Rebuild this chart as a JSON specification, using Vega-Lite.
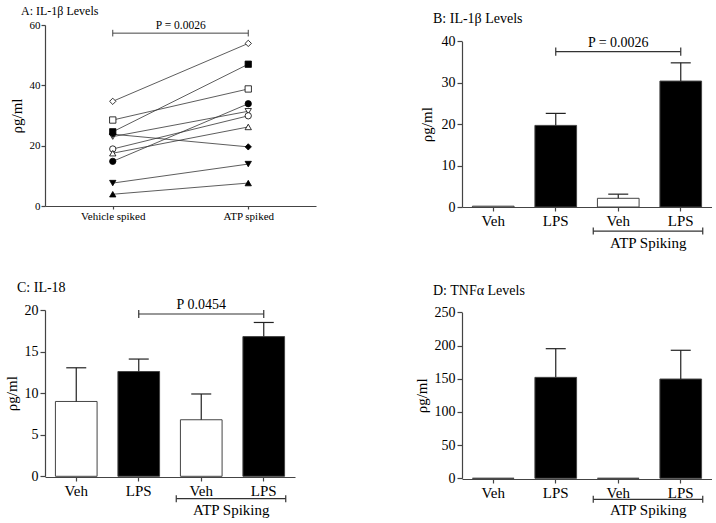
{
  "$schema": "https://vega.github.io/schema/vega-lite/v6.json",
  "background": "white",
  "padding": {"left": 4, "top": 5, "right": 0, "bottom": 0},
  "columns": 2,
  "bounds": "flush",
  "spacing": {"row": 93, "column": 146},
  "config": {
    "font": "Liberation Serif",
    "view": {"stroke": null},
    "title": {"fontWeight": "normal", "color": "black", "anchor": "start", "frame": "group", "baseline": "alphabetic", "font": "Liberation Serif"},
    "axis": {"grid": false, "domainColor": "#444", "tickColor": "#444", "domainWidth": 1.2, "tickWidth": 1.2, "labelColor": "black", "titleColor": "black", "titleFontWeight": "normal", "labelFont": "Liberation Serif", "titleFont": "Liberation Serif", "labelOverlap": false, "labelBound": false},
    "text": {"font": "Liberation Serif", "color": "black"}
  },
  "concat": [
    {
      "width": 271,
      "height": 181,
      "title": {"text": "A: IL-1β Levels", "fontSize": 12, "dx": -24, "offset": 1},
      "data": {"values": [
        {"id": 1, "marker": "diamond", "fill": "open", "cond": "Vehicle spiked", "value": 34.7},
        {"id": 1, "marker": "diamond", "fill": "open", "cond": "ATP spiked", "value": 53.9},
        {"id": 2, "marker": "square", "fill": "solid", "cond": "Vehicle spiked", "value": 24.6},
        {"id": 2, "marker": "square", "fill": "solid", "cond": "ATP spiked", "value": 47.0},
        {"id": 3, "marker": "square", "fill": "open", "cond": "Vehicle spiked", "value": 28.5},
        {"id": 3, "marker": "square", "fill": "open", "cond": "ATP spiked", "value": 38.8},
        {"id": 4, "marker": "circle", "fill": "solid", "cond": "Vehicle spiked", "value": 14.8},
        {"id": 4, "marker": "circle", "fill": "solid", "cond": "ATP spiked", "value": 33.9},
        {"id": 5, "marker": "triangle-down", "fill": "open", "cond": "Vehicle spiked", "value": 23.0},
        {"id": 5, "marker": "triangle-down", "fill": "open", "cond": "ATP spiked", "value": 31.4},
        {"id": 6, "marker": "circle", "fill": "open", "cond": "Vehicle spiked", "value": 18.9},
        {"id": 6, "marker": "circle", "fill": "open", "cond": "ATP spiked", "value": 29.9},
        {"id": 7, "marker": "triangle-up", "fill": "open", "cond": "Vehicle spiked", "value": 17.5},
        {"id": 7, "marker": "triangle-up", "fill": "open", "cond": "ATP spiked", "value": 26.2},
        {"id": 8, "marker": "diamond", "fill": "solid", "cond": "Vehicle spiked", "value": 23.8},
        {"id": 8, "marker": "diamond", "fill": "solid", "cond": "ATP spiked", "value": 19.6},
        {"id": 9, "marker": "triangle-down", "fill": "solid", "cond": "Vehicle spiked", "value": 7.6},
        {"id": 9, "marker": "triangle-down", "fill": "solid", "cond": "ATP spiked", "value": 13.9},
        {"id": 10, "marker": "triangle-up", "fill": "solid", "cond": "Vehicle spiked", "value": 3.9},
        {"id": 10, "marker": "triangle-up", "fill": "solid", "cond": "ATP spiked", "value": 7.6}
      ]},
      "layer": [
        {
          "mark": {"type": "line", "stroke": "#333", "strokeWidth": 0.8},
          "encoding": {
            "x": {"field": "cond", "type": "nominal", "title": null, "scale": {"type": "point", "domain": ["Vehicle spiked", "ATP spiked"], "padding": 0.5}, "axis": {"labelFontSize": 11, "tickSize": 3, "labelPadding": 1, "labelAngle": 0}},
            "y": {"field": "value", "type": "quantitative", "title": "ρg/ml", "scale": {"domain": [0, 60], "nice": false}, "axis": {"values": [0, 20, 40, 60], "tickCount": 10, "labelFontSize": 11, "tickSize": 4, "labelPadding": 1, "titleFontSize": 15, "titlePadding": 5}},
            "detail": {"field": "id", "type": "nominal"}
          }
        },
        {
          "mark": {"type": "point", "filled": true, "stroke": "black", "strokeWidth": 0.8, "size": 40, "opacity": 1},
          "encoding": {
            "x": {"field": "cond", "type": "nominal", "title": null},
            "y": {"field": "value", "type": "quantitative"},
            "shape": {"field": "marker", "type": "nominal", "legend": null, "scale": {"domain": ["circle", "square", "diamond", "triangle-up", "triangle-down"], "range": ["circle", "square", "diamond", "triangle-up", "triangle-down"]}},
            "fill": {"field": "fill", "type": "nominal", "legend": null, "scale": {"domain": ["open", "solid"], "range": ["white", "black"]}}
          }
        },
        {
          "data": {"values": [{"cond": "Vehicle spiked"}, {"cond": "ATP spiked"}]},
          "mark": {"type": "line", "stroke": "#444", "strokeWidth": 1},
          "encoding": {"x": {"field": "cond", "type": "nominal", "title": null}, "y": {"datum": 57.3}}
        },
        {
          "data": {"values": [{"cond": "Vehicle spiked"}, {"cond": "ATP spiked"}]},
          "mark": {"type": "rule", "stroke": "#444", "strokeWidth": 1},
          "encoding": {"x": {"field": "cond", "type": "nominal", "title": null}, "y": {"datum": 56.2}, "y2": {"datum": 58.4}}
        },
        {
          "data": {"values": [{"cond": "Vehicle spiked", "label": "P = 0.0026"}]},
          "mark": {"type": "text", "fontSize": 11.5, "baseline": "middle", "dx": 68},
          "encoding": {"x": {"field": "cond", "type": "nominal", "title": null}, "y": {"datum": 59.6}, "text": {"field": "label"}}
        }
      ]
    },
    {
      "width": 250,
      "height": 182,
      "title": {"text": "B: IL-1β Levels", "fontSize": 14, "dx": -29, "offset": -1},
      "data": {"values": [
        {"cat": "Veh", "stim": "Veh", "value": 0.2, "hi": 0.2},
        {"cat": "LPS", "stim": "LPS", "value": 19.7, "hi": 22.6},
        {"cat": "Veh ATP", "stim": "Veh", "value": 2.1, "hi": 3.1},
        {"cat": "LPS ATP", "stim": "LPS", "value": 30.4, "hi": 34.8}
      ]},
      "layer": [
        {
          "mark": {"type": "bar", "stroke": "#444", "strokeWidth": 1},
          "encoding": {
            "x": {"field": "cat", "type": "nominal", "title": null, "scale": {"type": "band", "domain": ["Veh", "LPS", "Veh ATP", "LPS ATP"], "paddingInner": 0.3333, "paddingOuter": 0.1667}, "axis": {"labelExpr": "split(datum.label, ' ')[0]", "labelFontSize": 15, "tickSize": 4, "labelPadding": 2, "labelAngle": 0}},
            "y": {"field": "value", "type": "quantitative", "title": "ρg/ml", "scale": {"domain": [0, 40], "nice": false, "range": [182, 16.3]}, "axis": {"values": [0, 10, 20, 30, 40], "tickCount": 10, "labelFontSize": 14, "tickSize": 5, "labelPadding": 2, "titleFontSize": 15, "titlePadding": 7}},
            "fill": {"condition": {"test": "datum.stim == 'LPS'", "value": "black"}, "value": "white"}
          }
        },
        {
          "transform": [{"filter": "datum.hi > datum.value"}],
          "mark": {"type": "rule", "color": "#222", "strokeWidth": 1.2},
          "encoding": {"x": {"field": "cat", "type": "nominal", "title": null, "scale": {"type": "band"}}, "y": {"field": "value", "type": "quantitative"}, "y2": {"field": "hi"}}
        },
        {
          "transform": [{"filter": "datum.hi > datum.value"}],
          "mark": {"type": "tick", "color": "#222", "size": 20, "thickness": 1.2, "opacity": 1},
          "encoding": {"x": {"field": "cat", "type": "nominal", "title": null, "scale": {"type": "band"}}, "y": {"field": "hi", "type": "quantitative"}}
        },
        {
          "data": {"values": [{"cat": "LPS"}, {"cat": "LPS ATP"}]},
          "mark": {"type": "line", "stroke": "#333", "strokeWidth": 1.2},
          "encoding": {"x": {"field": "cat", "type": "nominal", "title": null, "scale": {"type": "band"}}, "y": {"datum": 37.5}}
        },
        {
          "data": {"values": [{"cat": "LPS"}, {"cat": "LPS ATP"}]},
          "mark": {"type": "rule", "stroke": "#333", "strokeWidth": 1.2},
          "encoding": {"x": {"field": "cat", "type": "nominal", "title": null, "scale": {"type": "band"}}, "y": {"datum": 36.5}, "y2": {"datum": 38.5}}
        },
        {
          "data": {"values": [{"cat": "Veh ATP", "label": "P = 0.0026"}]},
          "mark": {"type": "text", "fontSize": 14, "baseline": "middle"},
          "encoding": {"x": {"field": "cat", "type": "nominal", "title": null, "scale": {"type": "band"}}, "y": {"datum": 39.6}, "text": {"field": "label"}}
        },
        {
          "data": {"values": [{"from": "Veh ATP", "to": "LPS ATP"}]},
          "mark": {"type": "rule", "stroke": "#333", "strokeWidth": 1.2, "xOffset": -25, "x2Offset": 22},
          "encoding": {"x": {"field": "from", "type": "nominal", "title": null, "scale": {"type": "band"}}, "x2": {"field": "to"}, "y": {"datum": -5.8}}
        },
        {
          "data": {"values": [{"from": "Veh ATP", "to": "LPS ATP"}]},
          "mark": {"type": "rule", "stroke": "#333", "strokeWidth": 1.2, "xOffset": -25},
          "encoding": {"x": {"field": "from", "type": "nominal", "title": null, "scale": {"type": "band"}}, "y": {"datum": -4.95}, "y2": {"datum": -6.65}}
        },
        {
          "data": {"values": [{"from": "Veh ATP", "to": "LPS ATP"}]},
          "mark": {"type": "rule", "stroke": "#333", "strokeWidth": 1.2, "xOffset": 22},
          "encoding": {"x": {"field": "to", "type": "nominal", "title": null, "scale": {"type": "band"}}, "y": {"datum": -4.95}, "y2": {"datum": -6.65}}
        },
        {
          "data": {"values": [{"from": "Veh ATP", "label": "ATP Spiking"}]},
          "mark": {"type": "text", "fontSize": 15, "baseline": "middle", "xOffset": 30},
          "encoding": {"x": {"field": "from", "type": "nominal", "title": null, "scale": {"type": "band"}}, "y": {"datum": -8.6}, "text": {"field": "label"}}
        }
      ]
    },
    {
      "width": 250,
      "height": 177,
      "title": {"text": "C: IL-18", "fontSize": 14, "dx": -28, "offset": 3},
      "data": {"values": [
        {"cat": "Veh", "stim": "Veh", "value": 9.0, "hi": 13.05},
        {"cat": "LPS", "stim": "LPS", "value": 12.6, "hi": 14.1},
        {"cat": "Veh ATP", "stim": "Veh", "value": 6.8, "hi": 9.9},
        {"cat": "LPS ATP", "stim": "LPS", "value": 16.8, "hi": 18.5}
      ]},
      "layer": [
        {
          "mark": {"type": "bar", "stroke": "#444", "strokeWidth": 1},
          "encoding": {
            "x": {"field": "cat", "type": "nominal", "title": null, "scale": {"type": "band", "domain": ["Veh", "LPS", "Veh ATP", "LPS ATP"], "paddingInner": 0.3333, "paddingOuter": 0.1667}, "axis": {"labelExpr": "split(datum.label, ' ')[0]", "labelFontSize": 15, "tickSize": 4, "labelPadding": 2, "labelAngle": 0}},
            "y": {"field": "value", "type": "quantitative", "title": "ρg/ml", "scale": {"domain": [0, 20], "nice": false, "range": [176.3, 10]}, "axis": {"values": [0, 5, 10, 15, 20], "tickCount": 10, "labelFontSize": 14, "tickSize": 5, "labelPadding": 2, "titleFontSize": 15, "titlePadding": 5}},
            "fill": {"condition": {"test": "datum.stim == 'LPS'", "value": "black"}, "value": "white"}
          }
        },
        {
          "transform": [{"filter": "datum.hi > datum.value"}],
          "mark": {"type": "rule", "color": "#222", "strokeWidth": 1.2},
          "encoding": {"x": {"field": "cat", "type": "nominal", "title": null, "scale": {"type": "band"}}, "y": {"field": "value", "type": "quantitative"}, "y2": {"field": "hi"}}
        },
        {
          "transform": [{"filter": "datum.hi > datum.value"}],
          "mark": {"type": "tick", "color": "#222", "size": 20, "thickness": 1.2, "opacity": 1},
          "encoding": {"x": {"field": "cat", "type": "nominal", "title": null, "scale": {"type": "band"}}, "y": {"field": "hi", "type": "quantitative"}}
        },
        {
          "data": {"values": [{"cat": "LPS"}, {"cat": "LPS ATP"}]},
          "mark": {"type": "line", "stroke": "#333", "strokeWidth": 1.2},
          "encoding": {"x": {"field": "cat", "type": "nominal", "title": null, "scale": {"type": "band"}}, "y": {"datum": 19.52}}
        },
        {
          "data": {"values": [{"cat": "LPS"}, {"cat": "LPS ATP"}]},
          "mark": {"type": "rule", "stroke": "#333", "strokeWidth": 1.2},
          "encoding": {"x": {"field": "cat", "type": "nominal", "title": null, "scale": {"type": "band"}}, "y": {"datum": 19.04}, "y2": {"datum": 20.0}}
        },
        {
          "data": {"values": [{"cat": "Veh ATP", "label": "P 0.0454"}]},
          "mark": {"type": "text", "fontSize": 14, "baseline": "middle"},
          "encoding": {"x": {"field": "cat", "type": "nominal", "title": null, "scale": {"type": "band"}}, "y": {"datum": 20.65}, "text": {"field": "label"}}
        },
        {
          "data": {"values": [{"from": "Veh ATP", "to": "LPS ATP"}]},
          "mark": {"type": "rule", "stroke": "#333", "strokeWidth": 1.2, "xOffset": -25, "x2Offset": 22},
          "encoding": {"x": {"field": "from", "type": "nominal", "title": null, "scale": {"type": "band"}}, "x2": {"field": "to"}, "y": {"datum": -2.69}}
        },
        {
          "data": {"values": [{"from": "Veh ATP", "to": "LPS ATP"}]},
          "mark": {"type": "rule", "stroke": "#333", "strokeWidth": 1.2, "xOffset": -25},
          "encoding": {"x": {"field": "from", "type": "nominal", "title": null, "scale": {"type": "band"}}, "y": {"datum": -2.27}, "y2": {"datum": -3.11}}
        },
        {
          "data": {"values": [{"from": "Veh ATP", "to": "LPS ATP"}]},
          "mark": {"type": "rule", "stroke": "#333", "strokeWidth": 1.2, "xOffset": 22},
          "encoding": {"x": {"field": "to", "type": "nominal", "title": null, "scale": {"type": "band"}}, "y": {"datum": -2.27}, "y2": {"datum": -3.11}}
        },
        {
          "data": {"values": [{"from": "Veh ATP", "label": "ATP Spiking"}]},
          "mark": {"type": "text", "fontSize": 15, "baseline": "middle", "xOffset": 30},
          "encoding": {"x": {"field": "from", "type": "nominal", "title": null, "scale": {"type": "band"}}, "y": {"datum": -4.05}, "text": {"field": "label"}}
        }
      ]
    },
    {
      "width": 250,
      "height": 179,
      "title": {"text": "D: TNFα Levels", "fontSize": 14, "dx": -29, "offset": 2},
      "data": {"values": [
        {"cat": "Veh", "stim": "Veh", "value": 0, "hi": 0},
        {"cat": "LPS", "stim": "LPS", "value": 152, "hi": 195.2},
        {"cat": "Veh ATP", "stim": "Veh", "value": 0, "hi": 0},
        {"cat": "LPS ATP", "stim": "LPS", "value": 149.5, "hi": 192.8}
      ]},
      "layer": [
        {
          "mark": {"type": "bar", "stroke": "#444", "strokeWidth": 1},
          "encoding": {
            "x": {"field": "cat", "type": "nominal", "title": null, "scale": {"type": "band", "domain": ["Veh", "LPS", "Veh ATP", "LPS ATP"], "paddingInner": 0.3333, "paddingOuter": 0.1667}, "axis": {"labelExpr": "split(datum.label, ' ')[0]", "labelFontSize": 15, "tickSize": 4, "labelPadding": 2, "labelAngle": 0}},
            "y": {"field": "value", "type": "quantitative", "title": "ρg/ml", "scale": {"domain": [0, 250], "nice": false, "range": [178.3, 12.3]}, "axis": {"values": [0, 50, 100, 150, 200, 250], "tickCount": 10, "labelFontSize": 14, "tickSize": 5, "labelPadding": 2, "titleFontSize": 15, "titlePadding": 5}},
            "fill": {"condition": {"test": "datum.stim == 'LPS'", "value": "black"}, "value": "white"}
          }
        },
        {
          "transform": [{"filter": "datum.hi > datum.value"}],
          "mark": {"type": "rule", "color": "#222", "strokeWidth": 1.2},
          "encoding": {"x": {"field": "cat", "type": "nominal", "title": null, "scale": {"type": "band"}}, "y": {"field": "value", "type": "quantitative"}, "y2": {"field": "hi"}}
        },
        {
          "transform": [{"filter": "datum.hi > datum.value"}],
          "mark": {"type": "tick", "color": "#222", "size": 20, "thickness": 1.2, "opacity": 1},
          "encoding": {"x": {"field": "cat", "type": "nominal", "title": null, "scale": {"type": "band"}}, "y": {"field": "hi", "type": "quantitative"}}
        },
        {
          "data": {"values": [{"from": "Veh ATP", "to": "LPS ATP"}]},
          "mark": {"type": "rule", "stroke": "#333", "strokeWidth": 1.2, "xOffset": -25, "x2Offset": 22},
          "encoding": {"x": {"field": "from", "type": "nominal", "title": null, "scale": {"type": "band"}}, "x2": {"field": "to"}, "y": {"datum": -31.6}}
        },
        {
          "data": {"values": [{"from": "Veh ATP", "to": "LPS ATP"}]},
          "mark": {"type": "rule", "stroke": "#333", "strokeWidth": 1.2, "xOffset": -25},
          "encoding": {"x": {"field": "from", "type": "nominal", "title": null, "scale": {"type": "band"}}, "y": {"datum": -26.3}, "y2": {"datum": -36.9}}
        },
        {
          "data": {"values": [{"from": "Veh ATP", "to": "LPS ATP"}]},
          "mark": {"type": "rule", "stroke": "#333", "strokeWidth": 1.2, "xOffset": 22},
          "encoding": {"x": {"field": "to", "type": "nominal", "title": null, "scale": {"type": "band"}}, "y": {"datum": -26.3}, "y2": {"datum": -36.9}}
        },
        {
          "data": {"values": [{"from": "Veh ATP", "label": "ATP Spiking"}]},
          "mark": {"type": "text", "fontSize": 15, "baseline": "middle", "xOffset": 30},
          "encoding": {"x": {"field": "from", "type": "nominal", "title": null, "scale": {"type": "band"}}, "y": {"datum": -47.7}, "text": {"field": "label"}}
        }
      ]
    }
  ]
}
